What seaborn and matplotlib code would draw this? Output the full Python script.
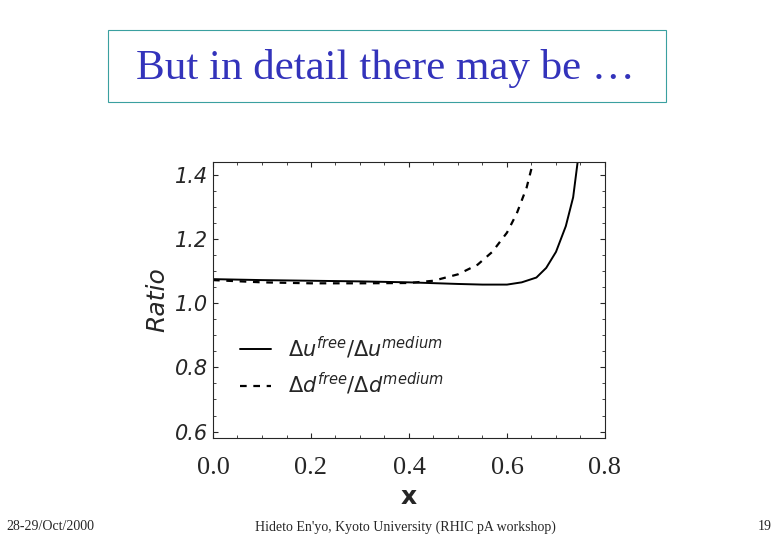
import numpy as np
import pandas as pd
import matplotlib
matplotlib.use("Agg")
import matplotlib.pyplot as plt
import seaborn as sns

# values
x_u = [0.0, 0.1, 0.2, 0.3, 0.4, 0.5, 0.55, 0.6, 0.63, 0.66, 0.68, 0.70, 0.72, 0.735, 0.745]
ratio_u = [1.075, 1.072, 1.070, 1.068, 1.065, 1.060, 1.058, 1.058, 1.065, 1.08, 1.11, 1.16, 1.24, 1.33, 1.45]
x_d = [0.0, 0.1, 0.2, 0.3, 0.4, 0.45, 0.5, 0.54, 0.57, 0.6, 0.62, 0.64, 0.655]
ratio_d = [1.072, 1.065, 1.062, 1.062, 1.063, 1.07, 1.09, 1.12, 1.16, 1.22, 1.28, 1.36, 1.45]
y_ticks = [0.6, 0.8, 1.0, 1.2, 1.4]
x_ticks = [0.0, 0.2, 0.4, 0.6, 0.8]

df = pd.concat([
    pd.DataFrame({"x": x_u, "ratio": ratio_u, "series": "u"}),
    pd.DataFrame({"x": x_d, "ratio": ratio_d, "series": "d"}),
])

sns.set_style("ticks")
fig = plt.figure(figsize=(7.8, 5.4), dpi=100)

# slide title box
fig.patches.append(plt.Rectangle((108 / 780, 1 - 102 / 540), 558 / 780, 72 / 540,
                                 transform=fig.transFigure, fill=False,
                                 edgecolor="#3aa0a0", linewidth=0.8))
fig.text(385 / 780, 1 - 68 / 540, "But in detail there may be \u2026", ha="center", va="center",
         fontsize=31, color="#3333bb", family="Liberation Serif")

ax = fig.add_axes([213 / 780, 1 - 438 / 540, 392 / 780, 276 / 540])
sns.lineplot(data=df[df.series == "u"], x="x", y="ratio", ax=ax, color="black", lw=1.4,
             label=r"$\Delta u^{free}/\Delta u^{medium}$")
sns.lineplot(data=df[df.series == "d"], x="x", y="ratio", ax=ax, color="black", lw=1.6,
             linestyle=(0, (3, 3)), label=r"$\Delta d^{free}/\Delta d^{medium}$")
ax.set_xlim(0, 0.8)
ax.set_ylim(0.58, 1.44)
ax.set_xticks(x_ticks)
ax.set_yticks(y_ticks)
ax.set_xticklabels([f"{v:.1f}" for v in x_ticks], family="Liberation Serif", fontsize=19)
ax.set_yticklabels([f"{v:.1f}" for v in y_ticks], fontsize=15, style="italic")
ax.minorticks_on()
ax.tick_params(which="both", direction="in", top=True, right=True)
ax.tick_params(axis="x", pad=14)
ax.set_xlabel(r"$\mathbf{x}$", fontsize=18, labelpad=4)
ax.set_ylabel("Ratio", fontsize=18, style="italic")
ax.legend(loc="lower left", bbox_to_anchor=(0.02, 0.08), frameon=False, fontsize=15, handlelength=1.5)

fig.text(6 / 780, 1 - 527 / 540, "28-29/Oct/2000", fontsize=10, va="center", family="Liberation Serif")
fig.text(405 / 780, 1 - 527 / 540, "Hideto En'yo, Kyoto University (RHIC pA workshop)", fontsize=10,
         ha="center", va="center", family="Liberation Serif")
fig.text(772 / 780, 1 - 527 / 540, "19", fontsize=10, ha="right", va="center", family="Liberation Serif")

fig.savefig("out.png", dpi=100)
